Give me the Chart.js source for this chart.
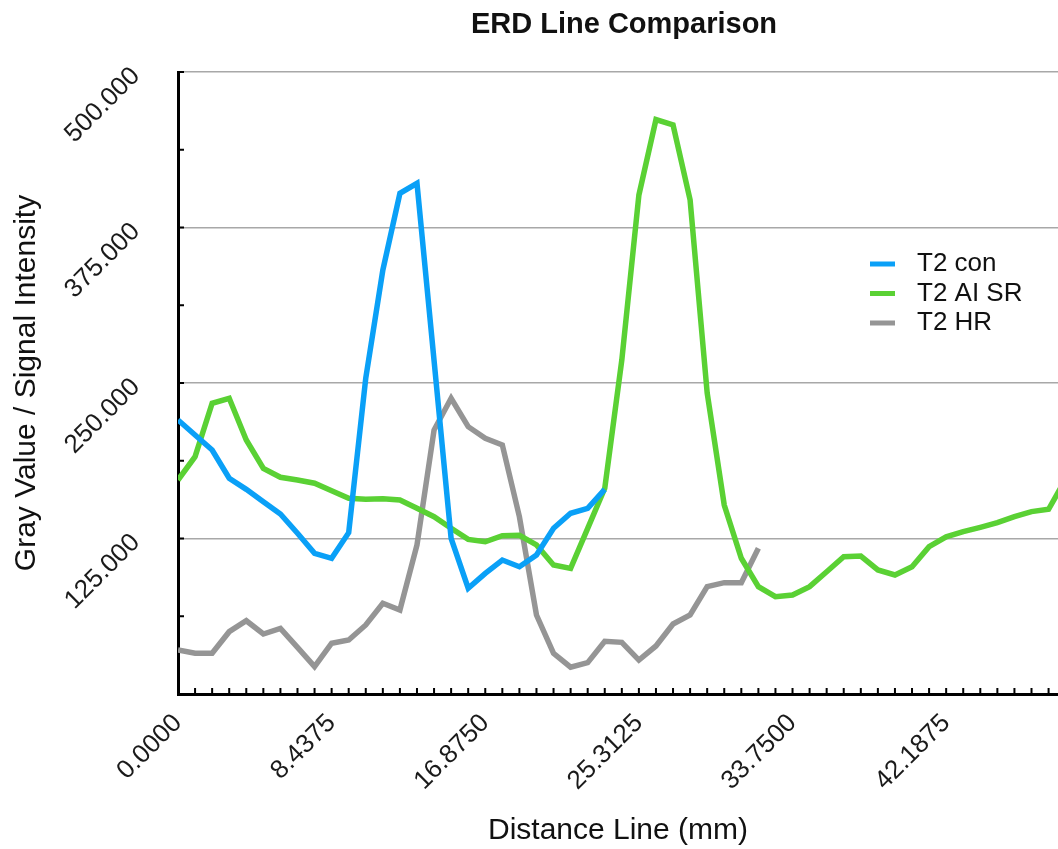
<!DOCTYPE html>
<html>
<head>
<meta charset="utf-8">
<script src="https://cdn.jsdelivr.net/npm/chart.js@4.4.0/dist/chart.umd.min.js"></script>
<style>
  html, body { margin: 0; padding: 0; background: #fff; }
  #wrap { width: 1058px; height: 849px; position: relative; }
</style>
</head>
<body>
<div id="wrap"><canvas id="myChart"></canvas></div>
<script>
// distance along the measuring line (mm), one per sample
const distance = [0, 0.9375, 1.875, 2.8125, 3.75, 4.6875, 5.625, 6.5625, 7.5, 8.4375,
  9.375, 10.3125, 11.25, 12.1875, 13.125, 14.0625, 15, 15.9375, 16.875, 17.8125,
  18.75, 19.6875, 20.625, 21.5625, 22.5, 23.4375, 24.375, 25.3125, 26.25, 27.1875,
  28.125, 29.0625, 30, 30.9375, 31.875, 32.8125, 33.75, 34.6875, 35.625, 36.5625,
  37.5, 38.4375, 39.375, 40.3125, 41.25, 42.1875, 43.125, 44.0625, 45, 45.9375,
  46.875, 47.8125, 48.75];

// gray values per series
const t2Con = [220.3, 208.2, 196.1, 173.4, 164.5, 154.6, 144.7, 129.2, 113.1, 109.1,
  129.7, 254.0, 340.8, 402.5, 410.5, 268.0, 125.0, 85.0, 97.0, 107.7,
  102.3, 111.7, 133.2, 145.3, 149.3, 164.5];
const t2AiSr = [172.0, 190.8, 233.7, 237.7, 204.2, 181.4, 174.2, 172.0, 169.4, 163.4,
  157.3, 156.5, 157.0, 155.9, 149.3, 142.5, 133.2, 124.3, 122.4, 127.3,
  127.6, 119.8, 103.7, 101.0, 133.2, 165.3, 268.5, 401.1, 461.8, 457.4,
  397.1, 242.0, 151.9, 109.1, 86.3, 78.2, 79.6, 86.3, 98.3, 110.4,
  110.9, 99.7, 95.7, 102.3, 118.4, 126.4, 130.5, 134.0, 137.7, 142.5,
  146.6, 148.5, 172.8];
const t2Hr = [35.4, 32.7, 32.7, 50.1, 58.9, 48.2, 52.8, 37.5, 22.0, 40.8,
  43.4, 55.5, 72.9, 67.5, 119.8, 212.2, 237.7, 214.9, 205.5, 200.2,
  142.5, 63.5, 32.7, 21.5, 25.2, 42.3, 41.5, 27.3, 38.6, 56.3,
  63.5, 86.3, 89.5, 89.5, 117.1];

const seriesNames = ['T2 con', 'T2 AI SR', 'T2 HR'];
const seriesColors = ['#0aa0f7', '#5ad134', '#959595'];

const xStep = 0.9375;   // sample spacing
const labelEvery = 9;   // a label every 9 samples
const yStep = 62.5;
const yLabelStep = 125;

Chart.defaults.font.family = '"Liberation Sans", Arial, Helvetica, sans-serif';

function toPoints(values) {
    return values.map(function (v, i) { return { x: distance[i], y: v }; });
}

//標題
const titlePlugin = {
    id: 'topTitle',
    afterDraw(chart) {
        const ctx = chart.ctx;
        const area = chart.chartArea;
        ctx.save();
        ctx.font = 'bold 29px "Liberation Sans", Arial, sans-serif';
        ctx.fillStyle = '#111';
        ctx.textAlign = 'center';
        ctx.textBaseline = 'middle';
        ctx.fillText('ERD Line Comparison', (area.left + area.right) / 2 + 6, 25);
        ctx.restore();
    }
};

//圖例
const legendPlugin = {
    id: 'sideLegend',
    afterDraw(chart) {
        const ctx = chart.ctx;
        ctx.save();
        ctx.font = '26px "Liberation Sans", Arial, sans-serif';
        ctx.textBaseline = 'middle';
        chart.data.datasets.forEach(function (ds, i) {
            const y = 264 + i * 29.5;
            ctx.strokeStyle = ds.borderColor;
            ctx.lineWidth = 5;
            ctx.beginPath();
            ctx.moveTo(870, y);
            ctx.lineTo(895, y);
            ctx.stroke();
            ctx.fillStyle = '#111';
            ctx.fillText(ds.label, 917, y);
        });
        ctx.restore();
    }
};

//刻度 (朝內)
const innerTicks = {
    id: 'innerTicks',
    afterDraw(chart) {
        const ctx = chart.ctx;
        const area = chart.chartArea;
        const xs = chart.scales.x, ys = chart.scales.y;
        ctx.save();
        ctx.strokeStyle = '#000';
        ctx.lineWidth = 2;
        ctx.beginPath();
        ys.ticks.forEach(function (t) {
            const py = ys.getPixelForValue(t.value);
            ctx.moveTo(area.left, py);
            ctx.lineTo(area.left + 6, py);
        });
        xs.ticks.forEach(function (t) {
            const px = xs.getPixelForValue(t.value);
            ctx.moveTo(px, area.bottom);
            ctx.lineTo(px, area.bottom - 6);
        });
        ctx.stroke();
        ctx.restore();
    }
};

const ctx = document.getElementById('myChart');
new Chart(ctx, {
    type: 'line',
    data: {
        datasets: [
            { label: seriesNames[0], data: toPoints(t2Con), borderColor: seriesColors[0] },
            { label: seriesNames[1], data: toPoints(t2AiSr), borderColor: seriesColors[1] },
            { label: seriesNames[2], data: toPoints(t2Hr), borderColor: seriesColors[2] }
        ]
    },
    options: {
        responsive: true,
        maintainAspectRatio: false,
        animation: false,
        layout: { padding: { top: 72, left: 0, right: 0, bottom: 0 } },
        elements: {
            line: { borderWidth: 5.5, tension: 0, fill: false },
            point: { radius: 0, hoverRadius: 0 }
        },
        plugins: {
            legend: { display: false },
            title: { display: false },
            tooltip: { enabled: false }
        },
        scales: {
            x: {
                type: 'linear',
                min: 0,
                max: 48.33,
                border: { color: '#000', width: 3 },
                grid: { display: false, drawTicks: false },
                ticks: {
                    stepSize: xStep,
                    includeBounds: false,
                    autoSkip: false,
                    minRotation: 45,
                    maxRotation: 45,
                    padding: 14,
                    color: '#1a1a1a',
                    font: { size: 26 },
                    callback: function (value) {
                        return Math.round(value / xStep) % labelEvery === 0 ? value.toFixed(4) : '';
                    }
                },
                title: {
                    display: true,
                    text: 'Distance Line (mm)',
                    color: '#111',
                    font: { size: 30 },
                    padding: { top: 0, bottom: 0 }
                },
                afterFit: function (scale) {
                    scale.height = 155;
                    scale.paddingLeft = 0;
                    scale.paddingRight = 0;
                }
            },
            y: {
                min: 0,
                max: 500,
                border: { color: '#000', width: 3 },
                grid: {
                    drawTicks: false,
                    lineWidth: 1.5,
                    color: function (c) {
                        const v = c.tick ? c.tick.value : 0;
                        return (v > 0 && v % yLabelStep === 0) ? '#a8a8a8' : 'rgba(0,0,0,0)';
                    }
                },
                ticks: {
                    stepSize: yStep,
                    autoSkip: false,
                    minRotation: 45,
                    maxRotation: 45,
                    padding: 42,
                    color: '#1a1a1a',
                    font: { size: 26 },
                    callback: function (value) {
                        return (value > 0 && value % yLabelStep === 0) ? value.toFixed(3) : '';
                    }
                },
                title: {
                    display: true,
                    text: 'Gray Value / Signal Intensity',
                    color: '#111',
                    font: { size: 30 },
                    padding: { top: 9, bottom: 0 }
                },
                afterFit: function (scale) {
                    scale.width = 178;
                    scale.paddingTop = 0;
                    scale.paddingBottom = 0;
                }
            }
        }
    },
    plugins: [titlePlugin, legendPlugin, innerTicks]
});
</script>
</body>
</html>
